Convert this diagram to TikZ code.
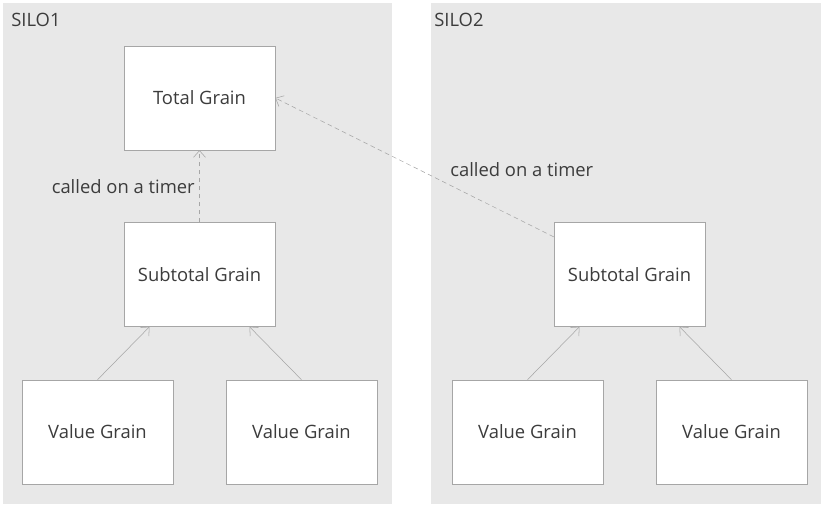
\documentclass[tikz,border=0pt]{standalone}
\usepackage{fontspec}
\setmainfont{Open Sans}
\usetikzlibrary{arrows.meta}
\definecolor{silobg}{HTML}{E8E8E8}
\definecolor{edgegray}{HTML}{A6A6A6}
\definecolor{textgray}{HTML}{3C3C3C}

\begin{document}
\begin{tikzpicture}[
        x=0.75pt,
        y=-0.75pt,
        silo/.style={fill=silobg,draw=none,inner sep=0pt,minimum width=292pt,minimum height=375.75pt},
        grain/.style={draw=edgegray,fill=white,inner sep=0pt,minimum width=113.25pt,minimum height=78pt,text=textgray,font=\fontsize{13.8}{16}\selectfont},
        note/.style={inner sep=0pt,text=textgray,font=\fontsize{13.8}{16}\selectfont},
        call/.style={draw=edgegray,-{Straight Barb[length=5pt,width=9pt]}},
        timer/.style={call,dash pattern=on 3.5pt off 2.5pt}
    ]
    \useasboundingbox (0,0) rectangle (825,509);

    \foreach \s/\x/\c/\l in {1/197.5/199.5/11,2/626/629.5/434} {
        \node[silo] (silo\s) at (\x,253.5) {};
        \node[note,anchor=west] (name\s) at (\l,20) {SILO\s};
        \node[grain] (sub\s) at (\c,274.5) {Subtotal Grain};
        \node[grain] (va\s) at (\c-102,432) {Value Grain};
        \node[grain] (vb\s) at (\c+102,432) {Value Grain};
        \draw[call] (va\s.north) -- ([xshift=-37.5pt]sub\s.south);
        \draw[call] (vb\s.north) -- ([xshift=37.5pt]sub\s.south);
    }

    \node[grain] (total) at (199.5,98) {Total Grain};

    \draw[timer] (sub1) -- (total);
    \draw[timer] (sub2) -- (total.east);

    \node[note,anchor=east] (timer1) at (195,187) {called on a timer};
    \node[note,anchor=west] (timer2) at (450,170) {called on a timer};
\end{tikzpicture}
\end{document}
